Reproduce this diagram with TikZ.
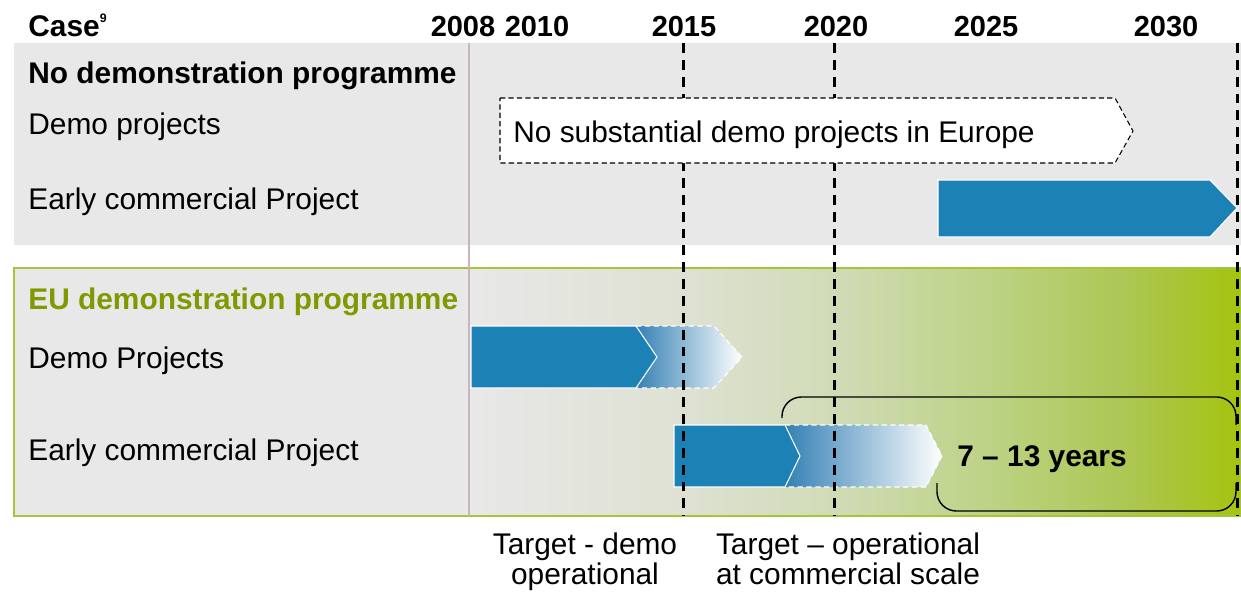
\documentclass[tikz,border=0pt]{standalone}
\usepackage{fontspec}
\setmainfont{Liberation Sans}
\usetikzlibrary{positioning}

\definecolor{panelgray}{HTML}{E8E8E8}
\definecolor{arrowblue}{HTML}{1C82B6}
\definecolor{gradblue}{HTML}{3580B4}
\definecolor{eutext}{HTML}{7F9A00}
\definecolor{eubord}{HTML}{A8C43A}
\definecolor{thinline}{HTML}{C9B5BE}
\definecolor{gA}{HTML}{DEE1D2}
\definecolor{gB}{HTML}{D0DBB5}
\definecolor{gC}{HTML}{BCD283}
\definecolor{gD}{HTML}{ACC650}
\definecolor{gE}{HTML}{A4C40E}

\pgfdeclarehorizontalshading{eushade}{100bp}{color(0bp)=(panelgray); color(25bp)=(panelgray);
  color(39bp)=(gA); color(49bp)=(gB); color(59bp)=(gC); color(68bp)=(gD); color(75bp)=(gE); color(100bp)=(gE)}

\tikzset{
  lbl/.style={anchor=base west, inner sep=0pt, font=\fontsize{17}{17.5}\selectfont},
  hdr/.style={lbl, font=\fontsize{17}{17.5}\selectfont\bfseries},
  yr/.style={anchor=base, inner sep=0pt, font=\fontsize{16.5}{18}\selectfont\bfseries},
  yearline/.style={black, line width=1.7pt, dash pattern=on 5.6pt off 4pt},
  blockarrow/.style={fill=arrowblue, draw=white, line width=0.6pt},
}

\begin{document}
\begin{tikzpicture}[x=0.02cm, y=-0.02cm]
    \useasboundingbox (0,0) rectangle (1241,592);

    % panels
    \fill[panelgray] (14,43) rectangle (1241,245);
    \fill[panelgray] (14,268) rectangle (470,516);
    \shade[shading=eushade] (470,268) rectangle (1241,516);
    \draw[eubord, line width=1pt] (14,268) rectangle (1240.5,516);
    \draw[thinline, line width=0.8pt] (469,43) -- (469,516);

    % EU programme arrows
    \foreach \xa/\xb/\tb/\xc/\tc/\yc in {471/636/21/714/28/357, 674/785/15/926/16/456} {
        \shade[left color=gradblue, right color=white] (\xb,\yc-31) -- (\xc,\yc-31) -- (\xc+\tc,\yc) -- (\xc,\yc+31) -- (\xb,\yc+31) -- (\xb+\tb,\yc) -- cycle;
        \draw[white, line width=0.6pt, dash pattern=on 3pt off 2pt] (\xb,\yc-31) -- (\xc,\yc-31) -- (\xc+\tc,\yc) -- (\xc,\yc+31) -- (\xb,\yc+31);
        \draw[blockarrow] (\xa,\yc-31) -- (\xb,\yc-31) -- (\xb+\tb,\yc) -- (\xb,\yc+31) -- (\xa,\yc+31) -- cycle;
    }

    \foreach \x in {683, 834, 1237} {
        \draw[yearline] (\x,43) -- (\x,516);
    }

    % no programme arrows
    \draw[fill=white, draw=black, line width=0.6pt, dash pattern=on 3pt off 1.8pt] (500,98) -- (1115,98) -- (1133,131) -- (1115,163) -- (500,163) -- cycle;
    \draw[blockarrow] (938,180) -- (1210,180) -- (1237,208) -- (1210,237) -- (938,237) -- cycle;

    \draw[line width=0.8pt, rounded corners=11pt] (782,418) -- (782,397) -- (1236,397) -- (1236,425);
    \draw[line width=0.8pt, rounded corners=11pt] (937,483) -- (937,511) -- (1236,511) -- (1236,483);

    \node[hdr] (case) at (28,36) {Case\raisebox{0.45em}{\fontsize{7}{7}\selectfont 9}};
    \foreach \yr/\x in {2008/463, 2010/537, 2015/684, 2020/836, 2025/986, 2030/1166} {
        \node[yr] (y\yr) at (\x,36) {\yr};
    }

    \node[hdr] (nodemo) at (28,83) {No demonstration programme};
    \node[lbl] (demoa) at (28,134) {Demo projects};
    \node[lbl] (earlya) at (28,209) {Early commercial Project};
    \node[hdr, text=eutext] (eudemo) at (28,309) {EU demonstration programme};
    \node[lbl] (demob) at (28,368) {Demo Projects};
    \node[lbl] (earlyb) at (28,460) {Early commercial Project};
    \node[lbl] (nosub) at (513,142) {No substantial demo projects in Europe};
    \node[hdr] (span) at (957,466) {7 \textendash{} 13 years};

    \node[lbl, anchor=north, align=center] (tgtdemo) at (585,532) {Target - demo\\operational};
    \node[lbl, anchor=north, align=center] (tgtcomm) at (848,532) {Target \textendash{} operational\\at commercial scale};
\end{tikzpicture}
\end{document}
